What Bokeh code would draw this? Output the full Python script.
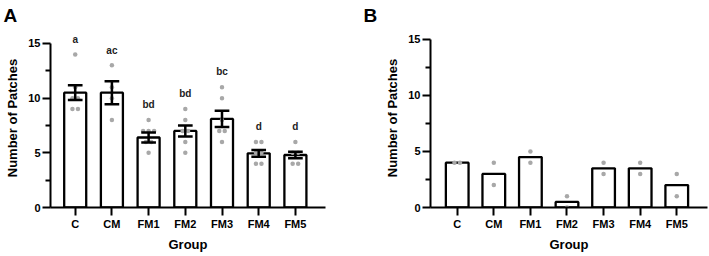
import numpy as np
from bokeh.plotting import figure
from bokeh.models import FixedTicker, Range1d
from bokeh.layouts import row
from bokeh.embed import file_html
from bokeh.resources import INLINE
from bokeh.core.properties import value

# ---------------- data ----------------
groups = ["C", "CM", "FM1", "FM2", "FM3", "FM4", "FM5"]
y_ticks = [0, 5, 10, 15]
y_minor = [2.5, 7.5, 12.5]

# Panel A: mean, SEM, significance letters, individual points
a_mean = [10.5, 10.5, 6.4, 7.0, 8.1, 4.95, 4.8]
a_sem = [0.68, 1.05, 0.45, 0.5, 0.74, 0.3, 0.3]
a_sig = ["a", "ac", "bd", "bd", "bc", "d", "d"]
a_pts_c = [14, 11, 10, 10, 9, 9]
a_pts_cm = [13, 11, 10, 8]
a_pts_fm1 = [8, 7, 7, 7, 6, 6, 5]
a_pts_fm2 = [9, 8, 7, 7, 6, 5]
a_pts_fm3 = [11, 10, 8, 7, 7, 6]
a_pts_fm4 = [6, 6, 5, 5, 4, 4]
a_pts_fm5 = [6, 5, 5, 4, 4]

# Panel B: mean and individual points
b_mean = [4, 3, 4.5, 0.5, 3.5, 3.5, 2]
b_pts_c = [4, 4]
b_pts_cm = [4, 2]
b_pts_fm1 = [5, 4]
b_pts_fm2 = [1, 0]
b_pts_fm3 = [4, 3]
b_pts_fm4 = [4, 3]
b_pts_fm5 = [3, 1]

a_points = [a_pts_c, a_pts_cm, a_pts_fm1, a_pts_fm2, a_pts_fm3, a_pts_fm4, a_pts_fm5]
b_points = [b_pts_c, b_pts_cm, b_pts_fm1, b_pts_fm2, b_pts_fm3, b_pts_fm4, b_pts_fm5]

# ---------------- style ----------------
FONT = "Liberation Sans"
DOT = "#a8a8a8"
xs = np.arange(1, len(groups) + 1)


def spread(points_list, step=0.15):
    px, py = [], []
    for i, pts in enumerate(points_list):
        arr = np.asarray(pts, dtype=float)
        for v in np.unique(arr):
            k = int((arr == v).sum())
            offs = (np.arange(k) - (k - 1) / 2.0) * step
            px.extend((xs[i] + offs).tolist())
            py.extend([float(v)] * k)
    return px, py


def make_fig(width, height, xr, yr, bl, br, bt, bb, letter, letter_offset):
    p = figure(width=width, height=height,
               x_range=Range1d(*xr), y_range=Range1d(*yr),
               output_backend="svg", toolbar_location=None,
               min_border_left=bl, min_border_right=br,
               min_border_top=bt, min_border_bottom=bb,
               title=letter)
    p.outline_line_color = None
    p.grid.visible = False

    p.title.align = "left"
    p.title.offset = letter_offset
    p.title.standoff = 5
    p.title.text_font = FONT
    p.title.text_font_style = "bold"
    p.title.text_font_size = "19px"
    p.title.text_color = "black"

    xa = p.xaxis[0]
    xa.ticker = FixedTicker(ticks=xs.tolist())
    xa.major_label_overrides = {int(x): g for x, g in zip(xs, groups)}
    xa.axis_label = "Group"
    ya = p.yaxis[0]
    ya.ticker = FixedTicker(ticks=y_ticks, minor_ticks=y_minor)
    ya.bounds = (0, 15)
    ya.axis_label = "Number of Patches"

    for ax in (xa, ya):
        ax.axis_line_width = 2
        ax.axis_line_color = "black"
        ax.major_tick_line_width = 2
        ax.major_tick_line_color = "black"
        ax.major_tick_in = 0
        ax.major_tick_out = 8
        ax.minor_tick_line_width = 2
        ax.minor_tick_line_color = "black"
        ax.minor_tick_in = 0
        ax.minor_tick_out = 5
        ax.major_label_text_font = FONT
        ax.major_label_text_font_style = "bold"
        ax.major_label_text_font_size = "11px"
        ax.major_label_text_color = "black"
        ax.major_label_standoff = 2
        ax.axis_label_text_font = FONT
        ax.axis_label_text_font_style = "bold"
        ax.axis_label_text_font_size = "13px"
        ax.axis_label_text_color = "black"
        ax.axis_label_standoff = 5
    xa.axis_label_standoff = 4
    xa.minor_tick_line_color = None
    return p


# ---------------- panel A ----------------
pA = make_fig(360, 256, (0.327, 7.82), (0, 16.37), 50, 35, 28, 46, "A", -47)
pA.vbar(x=xs, top=a_mean, width=0.6, fill_color="white",
        line_color="black", line_width=2.3)
apx, apy = spread(a_points)
pA.scatter(apx, apy, size=4.5, fill_color=DOT, line_color=None)
a_hi = np.array(a_mean) + np.array(a_sem)
a_lo = np.array(a_mean) - np.array(a_sem)
pA.segment(x0=xs, y0=a_lo, x1=xs, y1=a_hi, line_color="black", line_width=2.5)
pA.segment(x0=xs - 0.2, y0=a_hi, x1=xs + 0.2, y1=a_hi, line_color="black", line_width=2.5)
pA.segment(x0=xs - 0.2, y0=a_lo, x1=xs + 0.2, y1=a_lo, line_color="black", line_width=2.5)
sig_y = [max(pts) + 1.4 for pts in a_points]
pA.text(x=xs, y=sig_y, text=a_sig, text_font=value(FONT), text_font_style="bold",
        text_font_size="10px", text_align="center", text_baseline="middle",
        text_color="#222222")

# ---------------- panel B ----------------
pB = make_fig(349, 256, (0.27, 7.84), (0, 15.98), 70, 2, 28, 49, "B", -67)
pB.vbar(x=xs, top=b_mean, width=0.62, fill_color="white",
        line_color="black", line_width=2.3)
bpx, bpy = spread(b_points)
pB.scatter(bpx, bpy, size=4.5, fill_color=DOT, line_color=None)

layout = row(pA, pB)
open("out.html", "w").write(file_html(layout, INLINE))
